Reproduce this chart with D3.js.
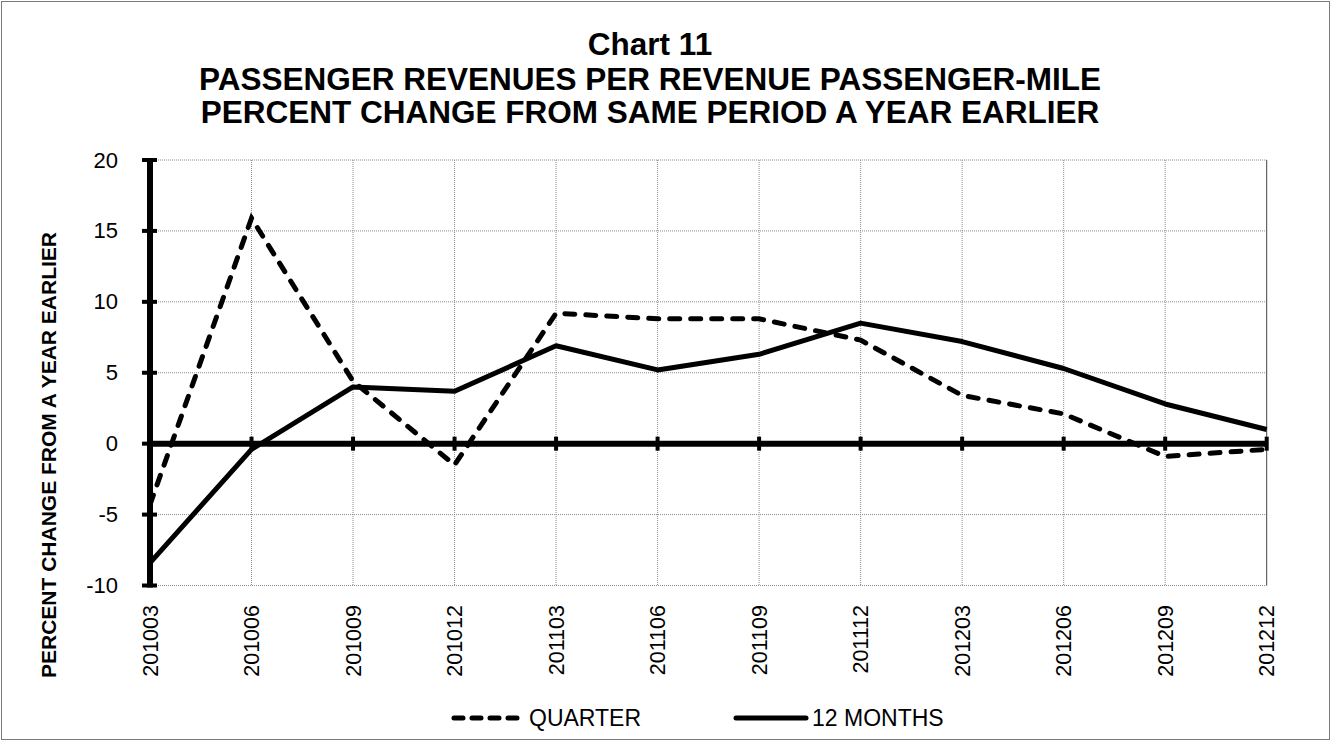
<!DOCTYPE html>
<html>
<head>
<meta charset="utf-8">
<script src="https://cdn.jsdelivr.net/npm/d3@7"></script>
<style>
  html, body { margin: 0; padding: 0; background: #fff; }
  svg { display: block; font-family: "Liberation Sans", Arial, sans-serif; }
</style>
</head>
<body>
<svg id="chart" width="1331" height="741"></svg>
<script>
const categories = ["201003","201006","201009","201012","201103","201106","201109","201112","201203","201206","201209","201212"];
const quarterValues = [-4.3, 15.9, 4.4, -1.5, 9.2, 8.8, 8.8, 7.3, 3.4, 2.1, -0.9, -0.4];
const twelveMonthValues = [-8.4, -0.4, 4.0, 3.7, 6.9, 5.2, 6.3, 8.5, 7.2, 5.3, 2.8, 1.0];
const yTickValues = [-10, -5, 0, 5, 10, 15, 20];
const titleLines = ["Chart 11", "PASSENGER REVENUES PER REVENUE PASSENGER-MILE", "PERCENT CHANGE FROM SAME PERIOD A YEAR EARLIER"];
const yAxisTitle = "PERCENT CHANGE FROM A YEAR EARLIER";
const seriesNames = ["QUARTER", "12 MONTHS"];

const svg = d3.select("#chart");
const W = 1331, H = 741;

// outer frame
svg.append("rect").attr("x", 1.5).attr("y", 1.5).attr("width", W - 3).attr("height", H - 3)
  .attr("fill", "#fff").attr("stroke", "#7a7a7a").attr("stroke-width", 1);

const x = d3.scalePoint().domain(categories).range([150, 1266.7]);
const y = d3.scaleLinear().domain([-10, 20]).range([585.5, 160]);

// title
const titleBaselines = [55, 90, 123];
svg.append("g").selectAll("text").data(titleLines).join("text")
  .attr("x", 650).attr("y", (d, i) => titleBaselines[i])
  .attr("text-anchor", "middle").attr("font-weight", "bold").attr("font-size", 31.5)
  .attr("fill", "#000").text(d => d);

// gridlines
const grid = svg.append("g");
grid.selectAll("line.h").data(yTickValues.filter(v => v !== 0)).join("line")
  .attr("class", "h")
  .attr("x1", x.range()[0]).attr("x2", x.range()[1])
  .attr("y1", d => y(d)).attr("y2", d => y(d))
  .attr("stroke", "#8c8c8c").attr("stroke-width", 1).attr("stroke-dasharray", "1,1");
grid.selectAll("line.v").data(categories.slice(1, -1)).join("line")
  .attr("class", "v")
  .attr("x1", d => x(d)).attr("x2", d => x(d))
  .attr("y1", y(20)).attr("y2", y(-10))
  .attr("stroke", "#8c8c8c").attr("stroke-width", 1).attr("stroke-dasharray", "1,1");
// right edge of plot
svg.append("line")
  .attr("x1", x(categories[categories.length - 1])).attr("x2", x(categories[categories.length - 1]))
  .attr("y1", y(20)).attr("y2", y(-10))
  .attr("stroke", "#444").attr("stroke-width", 1);

// y axis labels via d3 axis
const yAxis = d3.axisLeft(y).tickValues(yTickValues).tickSize(0).tickPadding(0).tickFormat(d => String(d));
const yg = svg.append("g").attr("transform", "translate(118,0)").call(yAxis);
yg.select(".domain").remove();
yg.selectAll("text").attr("font-size", 22).attr("fill", "#000")
  .attr("font-family", "'Liberation Sans', Arial, sans-serif");

// y axis thick line and cross ticks
svg.append("line").attr("x1", x.range()[0]).attr("x2", x.range()[0])
  .attr("y1", y(20) - 2).attr("y2", y(-10) + 2)
  .attr("stroke", "#000").attr("stroke-width", 6);
svg.append("g").selectAll("line").data(yTickValues).join("line")
  .attr("x1", x.range()[0] - 8).attr("x2", x.range()[0] + 7)
  .attr("y1", d => y(d)).attr("y2", d => y(d))
  .attr("stroke", "#000").attr("stroke-width", 4);

// zero axis
svg.append("line").attr("x1", x.range()[0]).attr("x2", x.range()[1])
  .attr("y1", y(0)).attr("y2", y(0))
  .attr("stroke", "#000").attr("stroke-width", 6);
svg.append("g").selectAll("line").data(categories).join("line")
  .attr("x1", d => x(d)).attr("x2", d => x(d))
  .attr("y1", y(0) - 7).attr("y2", y(0) + 7)
  .attr("stroke", "#000").attr("stroke-width", 4);

// x labels rotated
svg.append("g").selectAll("text").data(categories).join("text")
  .attr("transform", d => `translate(${x(d) + 7.5},605) rotate(-90)`)
  .attr("text-anchor", "end").attr("font-size", 21.5).attr("fill", "#000")
  .text(d => d);

// y axis title
svg.append("text")
  .attr("transform", "translate(56,455) rotate(-90)")
  .attr("text-anchor", "middle").attr("font-weight", "bold").attr("font-size", 21)
  .attr("fill", "#000").text(yAxisTitle);

// series lines
const dash = "10,11";
const line = d3.line().x((d, i) => x(categories[i])).y(d => y(d));
svg.append("path").datum(quarterValues).attr("d", line)
  .attr("fill", "none").attr("stroke", "#000").attr("stroke-width", 5)
  .attr("stroke-dasharray", dash).attr("stroke-linecap", "round");
svg.append("path").datum(twelveMonthValues).attr("d", line)
  .attr("fill", "none").attr("stroke", "#000").attr("stroke-width", 5)
  .attr("stroke-linejoin", "round");

// legend
const legY = 718;
const leg = svg.append("g");
leg.append("line").attr("x1", 454).attr("x2", 520).attr("y1", legY).attr("y2", legY)
  .attr("stroke", "#000").attr("stroke-width", 5).attr("stroke-dasharray", "9,9").attr("stroke-linecap", "round");
leg.append("text").attr("x", 529).attr("y", legY).attr("dy", "0.35em")
  .attr("font-size", 23).attr("fill", "#000").text(seriesNames[0]);
leg.append("line").attr("x1", 736).attr("x2", 806).attr("y1", legY).attr("y2", legY)
  .attr("stroke", "#000").attr("stroke-width", 5).attr("stroke-linecap", "round");
leg.append("text").attr("x", 812).attr("y", legY).attr("dy", "0.35em")
  .attr("font-size", 23).attr("fill", "#000").text(seriesNames[1]);
</script>
</body>
</html>
